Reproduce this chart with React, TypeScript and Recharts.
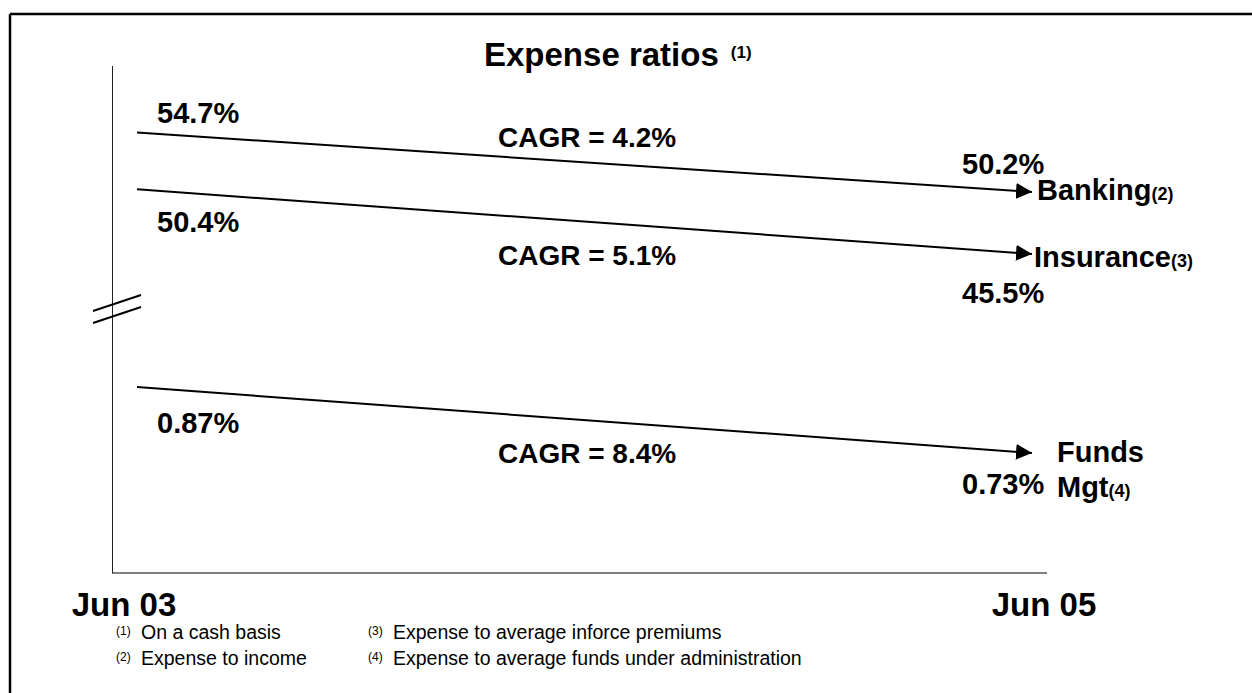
import { LineChart, Line, XAxis, YAxis } from 'recharts'

const periods = ['Jun 03', 'Jun 05']
const banking = [54.7, 50.2]
const insurance = [50.4, 45.5]
const fundsMgt = [0.87, 0.73]
const cagr = [4.2, 5.1, 8.4]
const footnotes = [
  ['(1)', 'On a cash basis'],
  ['(2)', 'Expense to income'],
  ['(3)', 'Expense to average inforce premiums'],
  ['(4)', 'Expense to average funds under administration'],
]

const data = periods.map((period, i) => ({
  period,
  banking: banking[i],
  insurance: insurance[i],
  funds: fundsMgt[i],
}))

const FONT = '"Liberation Sans", Arial, Helvetica, sans-serif'

// label placement per series (offsets from the line's end points)
const series = [
  { key: 'banking', axis: 'upper', name: ['Banking'], note: '(2)', cagr: cagr[0], digits: 1, startDy: -10, cagrDy: 14, endDy: -18, nameDx: 5, nameDy: 8 },
  { key: 'insurance', axis: 'upper', name: ['Insurance'], note: '(3)', cagr: cagr[1], digits: 1, startDy: 43, cagrDy: 76, endDy: 49, nameDx: 2, nameDy: 13 },
  { key: 'funds', axis: 'lower', name: ['Funds', 'Mgt'], note: '(4)', cagr: cagr[2], digits: 2, startDy: 46, cagrDy: 76, endDy: 41, nameDx: 25, nameDy: 9 },
]

type Cfg = (typeof series)[number]

const makeLabel = (cfg: Cfg) => (props: any) => {
  const { x, y, value, index } = props
  if (x == null || y == null) return null
  const txt = `${Number(value).toFixed(cfg.digits)}%`
  const base = { fontFamily: FONT, fontWeight: 700, fill: '#000' }
  if (index === 0) {
    return (
      <g>
        <text x={x + 20} y={y + cfg.startDy} fontSize={29} {...base}>{txt}</text>
        <text x={x + 361} y={y + cfg.cagrDy} fontSize={28} {...base}>{`CAGR = ${cfg.cagr}%`}</text>
      </g>
    )
  }
  return (
    <g>
      <text x={x - 70} y={y + cfg.endDy} fontSize={29} {...base}>{txt}</text>
      <text x={x + cfg.nameDx} y={y + cfg.nameDy} fontSize={29} {...base}>
        {cfg.name.map((n, i) => (
          <tspan key={n} x={x + cfg.nameDx} dy={i === 0 ? 0 : 35}>
            {n}
            {i === cfg.name.length - 1 && <tspan fontSize={18}>{cfg.note}</tspan>}
          </tspan>
        ))}
      </text>
    </g>
  )
}

const PeriodTick = (props: any) => {
  const { x, y, payload, index } = props
  const dx = index === 0 ? -13 : 12
  return (
    <text x={x + dx} y={y + 35} textAnchor="middle" fontFamily={FONT} fontWeight={700} fontSize={33} fill="#000">
      {payload.value}
    </text>
  )
}

export default function App() {
  return (
    <div style={{ position: 'absolute', left: 0, top: 0, width: 1252, height: 693, background: '#fff', overflow: 'hidden' }}>
      <svg width={0} height={0} style={{ position: 'absolute' }}>
        <defs>
          <marker id="arrowHead" viewBox="0 0 17 16" refX={16} refY={8} markerWidth={17} markerHeight={16} markerUnits="userSpaceOnUse" orient="auto">
            <path d="M0,0 L16,8 L0,16 z" fill="#000" />
          </marker>
        </defs>
      </svg>
      <LineChart width={1252} height={693} data={data} margin={{ top: 66, right: 205, bottom: 90, left: 112 }}>
        <XAxis
          dataKey="period"
          height={30}
          padding={{ left: 25, right: 15 }}
          axisLine={{ stroke: '#555', strokeWidth: 1.5 }}
          tickLine={false}
          tick={<PeriodTick />}
          interval={0}
        />
        <YAxis yAxisId="upper" hide domain={[21.33, 59.74]} allowDataOverflow />
        <YAxis yAxisId="lower" hide domain={[0.4755, 1.551]} allowDataOverflow />
        {series.map((s) => (
          <Line
            key={s.key}
            yAxisId={s.axis}
            dataKey={s.key}
            type="linear"
            stroke="#000"
            strokeWidth={2}
            dot={false}
            activeDot={false}
            markerEnd="url(#arrowHead)"
            label={makeLabel(s)}
            isAnimationActive={false}
          />
        ))}
      </LineChart>
      <svg width={1252} height={693} style={{ position: 'absolute', left: 0, top: 0, pointerEvents: 'none' }}>
        <line x1={10} y1={14} x2={1252} y2={14} stroke="#000" strokeWidth={2.5} />
        <line x1={10} y1={14} x2={10} y2={693} stroke="#000" strokeWidth={2.5} />
        {/* vertical axis with break marks */}
        <line x1={112.5} y1={66} x2={112.5} y2={573} stroke="#222" strokeWidth={1} />
        <line x1={93} y1={311} x2={141} y2={295} stroke="#000" strokeWidth={2} />
        <line x1={93} y1={323} x2={141} y2={307} stroke="#000" strokeWidth={2} />
        <text x={484} y={66} fontFamily={FONT} fontWeight={700} fontSize={33} fill="#000">
          Expense ratios
          <tspan dx={12} dy={-8} fontSize={17}>(1)</tspan>
        </text>
        {footnotes.map(([n, t], i) => {
          const x = i < 2 ? 116 : 368
          const y = i % 2 === 0 ? 639 : 665
          return (
            <g key={n}>
              <text x={x} y={y - 4} fontFamily={FONT} fontSize={12} fill="#000">{n}</text>
              <text x={x + 25} y={y} fontFamily={FONT} fontSize={19.5} fill="#000">{t}</text>
            </g>
          )
        })}
      </svg>
    </div>
  )
}
